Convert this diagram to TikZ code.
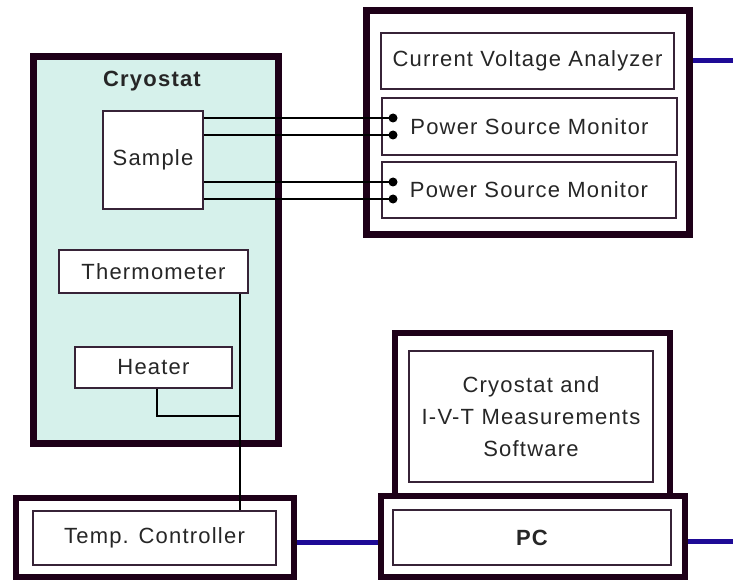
\documentclass[tikz,border=0pt]{standalone}
\usepackage{fontspec}
\setmainfont{Liberation Sans}[LetterSpace=5.5]
\usetikzlibrary{positioning,calc}
\definecolor{frame}{RGB}{30,0,24}
\definecolor{icy}{RGB}{214,241,235}
\definecolor{busblue}{RGB}{30,10,150}
\definecolor{edge}{RGB}{55,35,55}
\tikzset{
  rack/.style={draw=frame,line width=6pt,fill=white,inner sep=0pt},
  unit/.style={draw=edge,line width=1.6pt,fill=white,inner sep=0pt,align=center,
    text=black!85,font=\fontsize{22}{32}\selectfont},
  bus/.style={draw=busblue,line width=5pt},
  wire/.style={draw=black,line width=2.4pt},
  sig/.style={draw=black,line width=1.6pt},
  pin/.style={circle,fill=black,inner sep=0pt,minimum size=9pt},
}
\begin{document}
\begin{tikzpicture}[x=1pt,y=-1pt]
  \useasboundingbox[fill=white] (0,0) rectangle (733,580);
  \coordinate (edgeR) at (733,0);
  % cryostat with its parts
  \node[rack,line width=7pt,fill=icy,minimum width=245pt,minimum height=387pt] (cryo) at (156,250) {};
  \node[font=\bfseries\fontsize{22}{26}\selectfont,text=black!85] (cryolbl) at (152,81) {Cryostat};
  \node[unit,minimum width=100pt,minimum height=98pt] (sample) at (153,160) {Sample};
  \node[unit,minimum width=189pt,minimum height=43pt] (thermo) at (153.5,271.5) {Thermometer};
  \node[unit,minimum width=157pt,minimum height=41pt] (heater) at (153.5,367.5) {Heater};
  % measurement rack
  \node[rack,line width=7pt,minimum width=323pt,minimum height=224pt] (rack) at (528,122.5) {};
  \node[unit,minimum width=293pt,minimum height=56pt] (cva) at (527.5,61) {Current Voltage Analyzer};
  \node[unit,line width=2pt,minimum width=295pt,minimum height=57pt] (psmA) at (529.5,126.5) {Power Source Monitor};
  \node[unit,line width=2pt,minimum width=294pt,minimum height=56pt] (psmB) at (529,190) {Power Source Monitor};
  % temperature controller
  \node[rack,minimum width=278pt,minimum height=79pt] (tctlbox) at (155,537.5) {};
  \node[unit,minimum width=243pt,minimum height=54pt] (tctl) at (154.5,538) {Temp. Controller};
  % computer
  \node[rack,minimum width=275pt,minimum height=164pt] (monitor) at (532.5,415) {};
  \node[unit,minimum width=244pt,minimum height=131pt] (soft) at (531,416.5) {Cryostat and\\I-V-T Measurements\\Software};
  \node[rack,minimum width=304pt,minimum height=81pt] (pcbox) at (533,536.5) {};
  \node[unit,minimum width=278pt,minimum height=55pt,font=\bfseries\fontsize{22}{26}\selectfont] (pc) at (532,537.5) {PC};
  % sample leads
  \foreach \y [count=\i] in {118,135,182,199} {
    \coordinate (lead\i) at (393,\y);
    \draw[wire] (sample.east |- lead\i) -- (lead\i);
    \node[pin] (dot\i) at (lead\i) {};
  }
  % temperature lines
  \coordinate (tap) at (240,416);
  \draw[sig] (thermo.south -| tap) -- (tctl.north -| tap);
  \draw[sig] ([xshift=3.5pt]heater.south) |- (tap);
  % data buses
  \draw[bus] ([yshift=-5pt]tctlbox.east) -- ([yshift=-5pt]tctlbox.east -| pcbox.west);
  \draw[bus] ([yshift=-5pt]pcbox.east) -- ([yshift=-5pt]pcbox.east -| edgeR);
  \draw[bus] (cva.east -| rack.east) -- (cva.east -| edgeR);
\end{tikzpicture}
\end{document}
